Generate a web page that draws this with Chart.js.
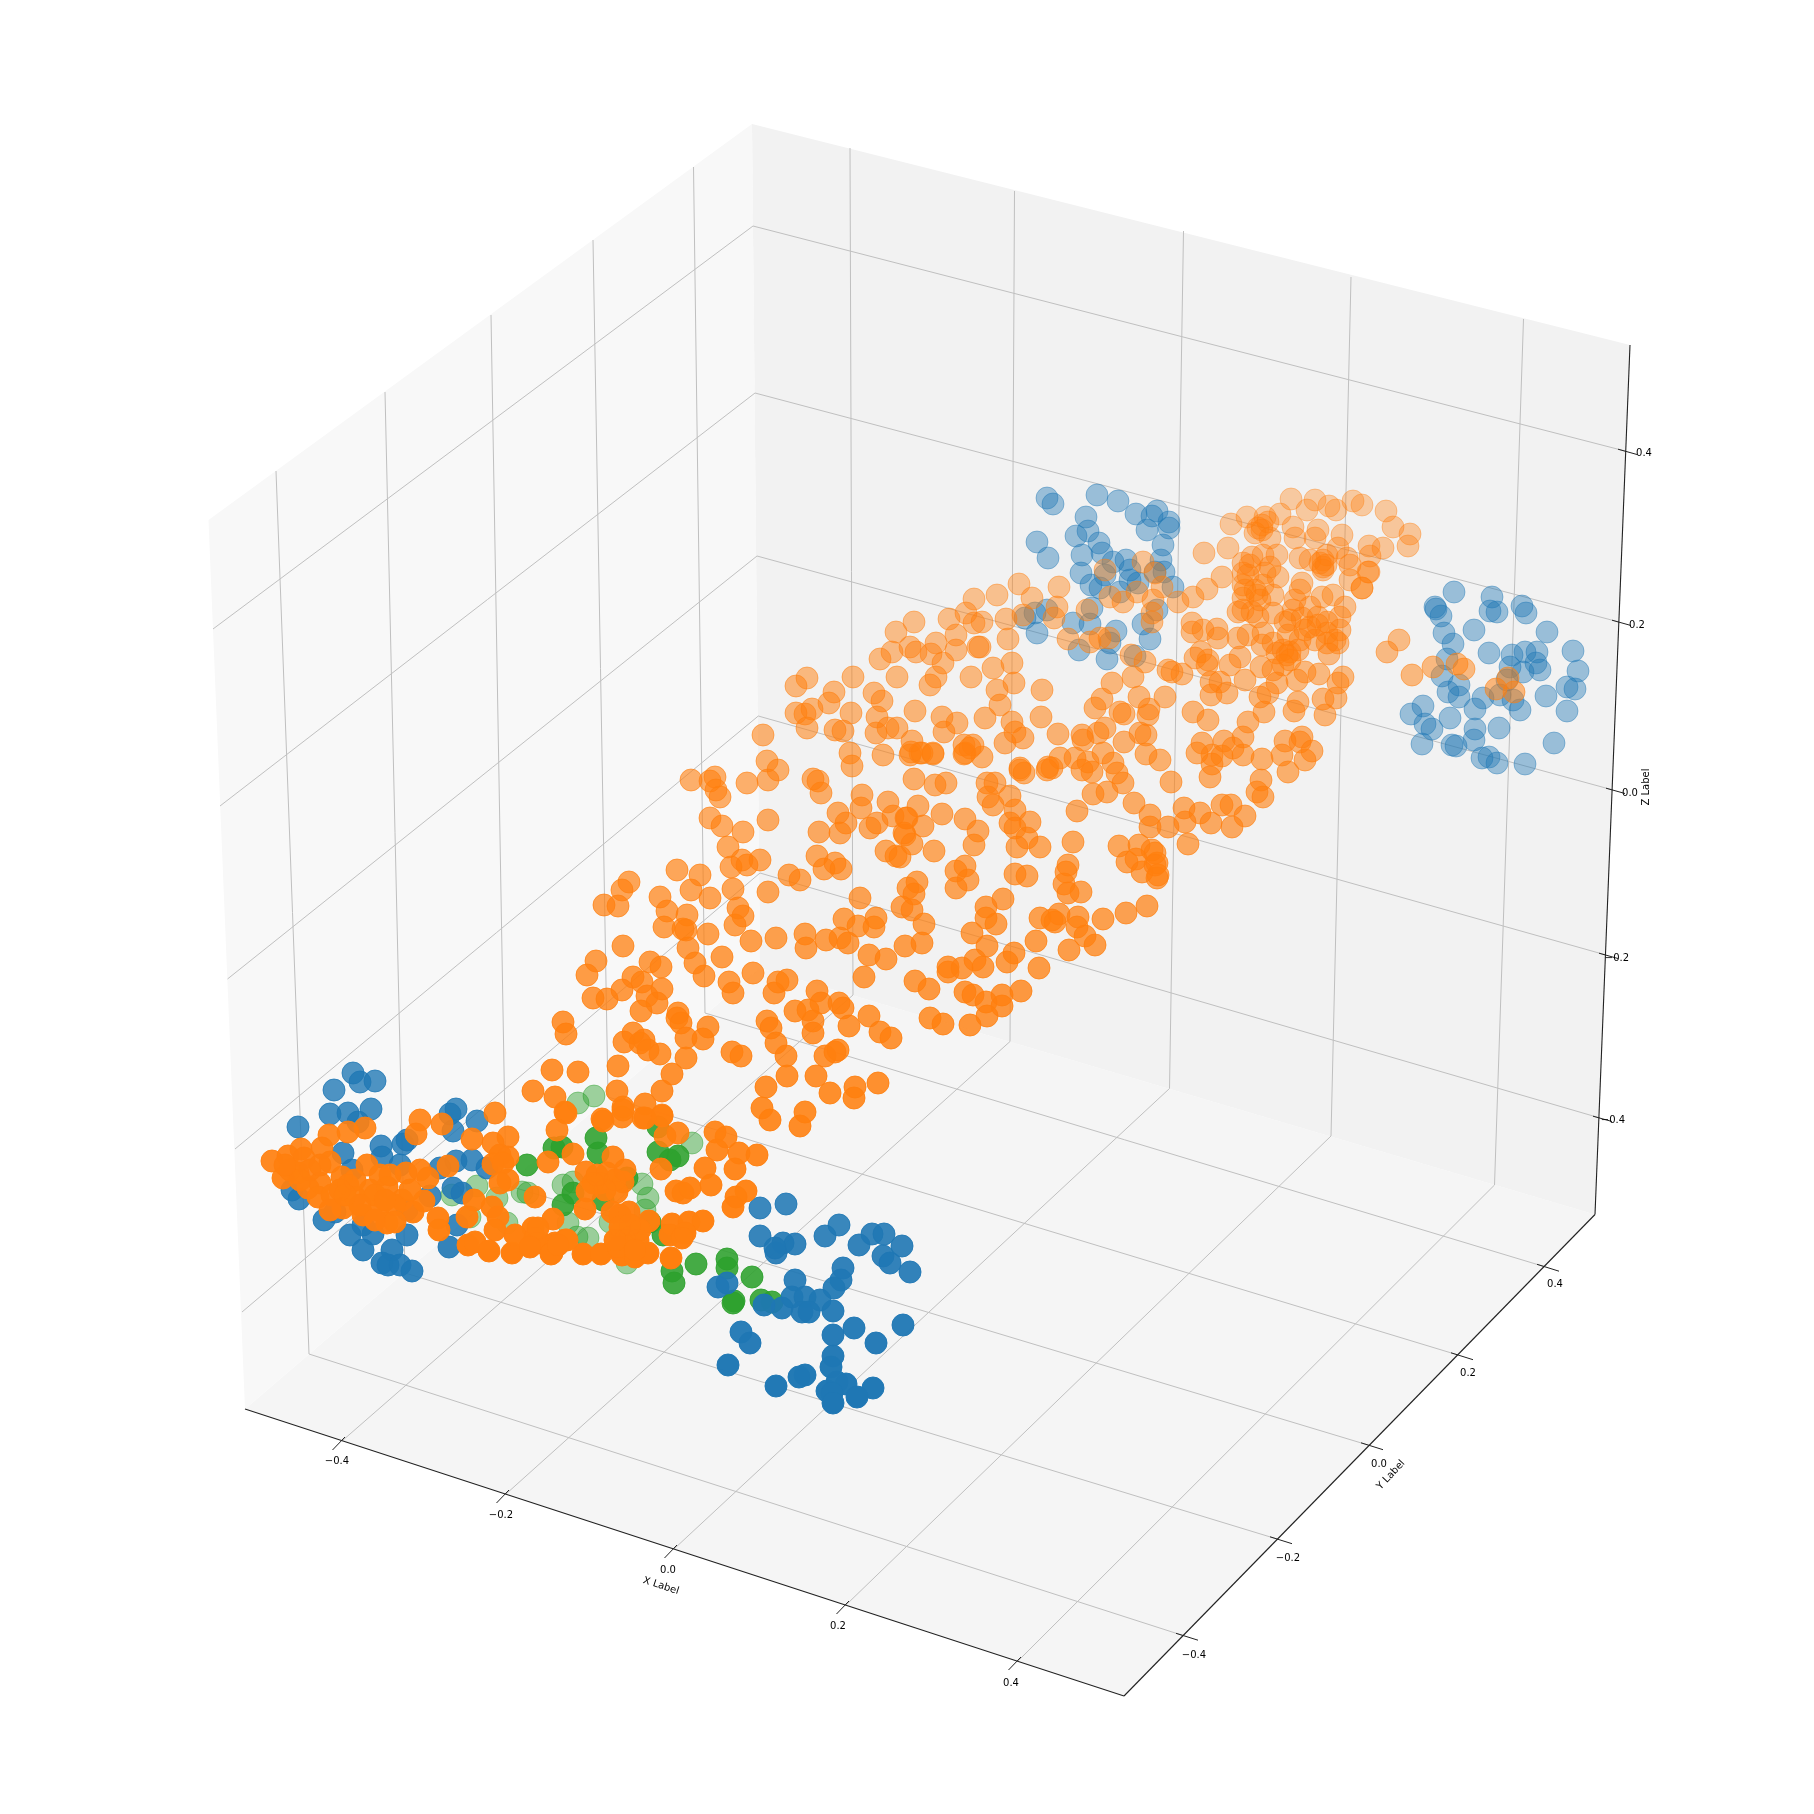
<!DOCTYPE html>
<html>
<head>
<meta charset="utf-8">
<title>3D scatter</title>
<script src="https://cdn.jsdelivr.net/npm/chart.js@4/dist/chart.umd.min.js"></script>
<style>
  html, body { margin: 0; padding: 0; background: #fff; }
  canvas { display: block; }
</style>
</head>
<body>
<canvas id="scatter3d" width="1814" height="1814"></canvas>
<script>
// Series values as [x, y]
const blueBack = [
  [1454,592],[1492,597],[1490,611],[1497,612],[1522,606],[1526,613],[1435,607],[1436,609],[1441,616],[1474,630],
  [1444,633],[1547,632],[1453,644],[1489,653],[1512,655],[1525,652],[1537,652],[1573,651],[1578,671],[1447,659],
  [1510,667],[1536,663],[1540,670],[1523,672],[1442,676],[1459,685],[1507,680],[1567,687],[1575,689],[1448,692],
  [1459,697],[1483,698],[1500,695],[1513,700],[1546,696],[1520,710],[1567,711],[1423,706],[1411,714],[1475,709],
  [1450,718],[1425,724],[1432,729],[1499,728],[1475,729],[1474,740],[1422,744],[1452,745],[1456,746],[1554,743],
  [1482,758],[1489,757],[1497,763],[1525,764],
  [1047,498],[1053,504],[1097,495],[1118,501],[1136,514],[1157,511],[1152,516],[1169,522],[1169,528],[1147,530],
  [1086,517],[1088,531],[1076,536],[1037,542],[1048,558],[1099,543],[1163,545],[1082,555],[1102,553],[1113,562],
  [1126,560],[1161,560],[1081,573],[1105,575],[1130,570],[1155,572],[1164,572],[1091,585],[1100,588],[1130,580],
  [1138,583],[1120,592],[1173,587],[1157,610],[1092,608],[1047,610],[1035,613],[1025,618],[1073,623],[1090,624],
  [1037,633],[1143,624],[1116,631],[1150,639],[1110,643],[1079,650],[1107,659],[1135,656]
];
const blueFront = [
  [353,1073],[360,1082],[375,1081],[334,1090],[330,1114],[348,1113],[371,1109],[358,1122],[298,1127],[343,1153],
  [381,1146],[403,1144],[407,1140],[450,1114],[456,1109],[477,1121],[453,1131],[382,1157],[400,1165],[456,1161],
  [472,1160],[440,1168],[487,1168],[352,1170],[453,1188],[462,1193],[430,1196],[292,1190],[299,1199],[324,1220],
  [335,1212],[363,1225],[350,1235],[373,1234],[407,1235],[392,1250],[363,1250],[382,1263],[388,1265],[400,1265],
  [412,1271],[457,1225],[449,1247],[407,1210],
  [760,1208],[786,1204],[760,1236],[839,1225],[825,1236],[783,1243],[795,1244],[776,1253],[775,1248],[859,1245],
  [872,1234],[884,1234],[902,1246],[883,1256],[890,1263],[910,1272],[843,1268],[841,1280],[834,1288],[795,1280],
  [792,1297],[805,1297],[820,1300],[833,1311],[782,1308],[764,1305],[718,1287],[727,1283],[802,1312],[809,1312],
  [741,1332],[750,1343],[728,1365],[833,1335],[854,1328],[876,1343],[903,1325],[833,1356],[831,1367],[805,1375],
  [799,1377],[776,1386],[846,1384],[837,1382],[873,1388],[857,1397],[827,1391],[832,1393],[833,1403]
];
const greenBack = [
  [578,1103],[594,1096],[477,1186],[452,1195],[497,1198],[522,1192],[528,1193],[470,1217],[507,1223],[563,1185],
  [573,1182],[648,1198],[642,1184],[588,1238],[627,1263],[568,1223],[577,1237],[610,1222],[645,1210],[692,1143]
];
const greenFront = [
  [562,1147],[554,1148],[527,1165],[596,1138],[598,1153],[573,1193],[563,1205],[603,1200],[627,1178],[658,1127],
  [658,1152],[670,1160],[678,1156],[650,1222],[663,1235],[672,1271],[674,1283],[696,1264],[727,1259],[727,1268],
  [752,1277],[734,1301],[761,1300],[772,1302],[733,1303]
];
const orangeUpper = [
  [1399,640],[1387,652],[1412,675],[1433,667],[1457,664],[1464,669],[1508,678],[1496,689],[1514,692],[1369,572],[1362,588],
  [1291,499],[1315,500],[1329,506],[1353,501],[1362,505],[1386,511],[1336,510],[1307,510],[1280,514],[1265,517],
  [1247,517],[1231,524],[1262,525],[1255,533],[1293,527],[1318,530],[1393,527],[1410,534],[1270,538],[1295,538],
  [1315,538],[1342,535],[1408,546],[1369,546],[1383,548],[1370,556],[1228,548],[1204,553],[1263,555],[1277,555],
  [1252,557],[1300,558],[1338,548],[1327,555],[1347,558],[1243,563],[1270,567],[1310,560],[1323,567],[1323,570],
  [1350,565],[1243,573],[1265,573],[1278,577],[1368,572],[1222,577],[1243,585],[1350,580],[1362,588],[1263,585],
  [1302,583],[1300,590],[1207,589],[1193,597],[1257,595],[1243,598],[1273,595],[1322,597],[1333,595],[1295,600],
  [1345,607],[1243,610],[1238,612],[1258,617],[1273,613],[1293,610],[1310,607],[1340,617],[1285,622],[1302,618],
  [1318,617],[1327,622],[1310,627],[1340,630],[1327,633],[1263,633],[1288,635],[1248,635],[1338,643],[1327,643],
  [1262,645],[1273,643],[1315,640],[1290,652],[1298,650],[1287,655],[1277,653],[1329,654],
  [1323,560],[1326,565],[1320,563],[1262,530],[1268,522],[1258,528],[1250,565],[1248,575],[1245,590],[1255,590],
  [1260,600],[1252,612],[1290,620],[1305,630],[1318,625],[1300,640],[1335,640],[1283,650],[1290,660]
];
const orangeMiddle = [
  [1192,623],[1192,632],[1203,630],[1217,629],[1218,638],[1238,638],[1201,652],[1195,658],[1208,660],[1207,665],
  [1230,665],[1240,657],[1261,667],[1273,670],[1283,665],[1305,672],[1319,674],[1343,677],[1297,680],[1245,680],
  [1220,682],[1211,682],[1277,683],[1338,683],[1227,693],[1211,695],[1268,693],[1260,697],[1323,699],[1336,698],
  [1298,702],[1264,712],[1294,711],[1325,715],[1193,712],[1208,720],[1248,722],[1243,737],[1302,737],[1285,741],
  [1300,742],[1312,751],[1202,743],[1224,741],[1197,753],[1233,748],[1212,755],[1222,756],[1243,755],[1262,759],
  [1282,755],[1305,760],
  [1019,584],[997,595],[1032,598],[1059,587],[1023,615],[1006,619],[1057,607],[1054,618],[1008,639],[982,622],[980,647],
  [1087,610],[1110,597],[1123,602],[1137,592],[1143,562],[1105,570],[1155,573],[1153,600],[1162,587],[1178,602],
  [1152,613],[1152,622],[1068,639],[1090,642],[1109,638],[1100,638],[1131,655],[1145,662],[1168,670],[1172,672],
  [1182,674],[1133,677],[1112,683],[1042,690],[1012,663],[993,668],[1014,683],[997,690],[1000,705],[1041,717],
  [1165,697],[1139,697],[1102,699],[1095,708],[1120,712],[1124,714],[1149,709],[1148,715],[985,718],[1012,722],
  [1015,732],[1023,738],[1005,743],[1058,734],[1082,735],[1083,740],[1105,728],[1098,733],[1124,742],[1140,733],
  [1146,735],[1146,754],[1160,760],[1103,753],[1113,763],[1060,758],[1075,758],[1088,762],[1048,767],[1020,768],[982,757],
  [1212,764],[1210,777],[1288,772],[1261,780],[1257,792],[1263,797],[1171,782],[1184,808],[1200,813],[1222,805],
  [1231,805],[1245,816],[1211,823],[1232,827],[1185,822],[1168,827],[1150,815],[1150,827],[1188,844],[1155,853],[1157,863],[1158,875],
  [974,623],[966,613],[974,599],[949,619],
  [807,678],[796,686],[796,713],[812,709],[805,714],[807,728],[834,692],[829,703],[853,677],[851,713],
  [835,730],[843,731],[763,735],[850,753],[852,766],[874,693],[882,701],[877,717],[876,733],[888,728],
  [897,728],[880,659],[892,652],[896,632],[897,677],[910,647],[916,652],[930,685],[936,677],[931,654],
  [936,643],[943,663],[956,635],[956,650],[914,622],[915,711],[912,741],[883,755],[910,755],[920,753],
  [933,753],[942,717],[957,723],[944,732],[964,745],[973,745],[964,754],[978,647],[971,677]
];
const orangeLower = [
  [911,752],[922,753],[933,754],[965,753],[970,748],[914,779],[935,785],[946,783],[987,783],[995,783],
  [988,797],[993,805],[1010,796],[1020,770],[1024,773],[1047,770],[1052,768],[1082,770],[1092,772],[1117,773],
  [1123,783],[1093,794],[1107,792],[1134,803],[1077,811],[1073,842],[1119,846],[1139,845],[1152,850],[1127,862],
  [1136,859],[1155,865],[1142,872],[1157,878],[1068,865],[1066,872],[1064,884],[1068,893],[1081,892],[1147,906],
  [1126,913],[1103,919],[1078,917],[1059,914],[1040,918],[1052,920],[1055,922],[1077,927],[1085,936],[1095,945],
  [1036,941],[1069,950],[1015,810],[1030,822],[1010,823],[1015,828],[1027,838],[1017,847],[1040,847],[1015,874],
  [1027,876],[1003,899],[986,907],[986,918],[996,924],[972,933],[987,946],[975,960],[983,967],[1014,953],
  [1007,962],[1039,968],[1021,991],[1002,995],[965,992],[973,995],[986,1002],[1002,1006],[987,1016],[970,1025],
  [943,1024],[930,1018],[929,989],[915,981],[948,967],[948,972],[962,968],[918,806],[942,814],[907,818],
  [923,826],[905,835],[912,844],[900,857],[965,819],[978,831],[974,845],[934,851],[965,866],[956,871],
  [968,880],[956,888],[917,882],[908,888],[914,894],[902,907],[912,910],[924,924],[922,943],[905,946],
  [715,777],[710,781],[716,790],[720,797],[747,783],[767,761],[778,770],[768,780],[710,818],[722,826],
  [743,832],[768,820],[728,847],[742,860],[731,867],[747,865],[760,860],[700,875],[733,889],[710,898],
  [768,892],[738,908],[743,916],[735,925],[708,934],[751,941],[776,938],[722,957],[789,875],[800,880],
  [817,856],[824,869],[835,863],[841,869],[813,779],[818,781],[821,793],[838,813],[819,832],[846,823],
  [840,833],[862,795],[861,808],[870,828],[877,823],[888,802],[893,816],[906,818],[904,833],[886,851],
  [896,856],[860,898],[844,919],[858,926],[876,918],[874,927],[840,938],[848,943],[826,940],[805,934],
  [806,948],[869,955],[886,959],
  [691,780],[677,870],[629,882],[622,890],[691,890],[660,897],[604,905],[618,906],[667,911],[687,915],
  [664,927],[683,929],[686,930],[688,948],[623,946],[695,963],[704,976],[596,961],[587,975],[650,962],
  [661,967],[633,977],[642,982],[662,989],[593,998],[607,999],[622,990],[647,996],[657,1003],[641,1011],
  [753,973],[729,982],[733,993],[774,993],[778,982],[787,980],[817,991],[821,1003],[795,1011],[808,1010],
  [813,1021],[813,1033],[839,1003],[843,1008],[849,1026],[869,1016],[880,1032],[891,1038],[767,1021],[771,1028],
  [776,1043],[786,1056],[732,1052],[741,1056],[825,1056],[835,1052],[838,1050],[816,1076],[787,1076],[766,1087],
  [830,1093],[855,1087],[878,1083],[854,1098],[762,1108],[805,1112],[770,1120],[864,977],[800,1126]
];
const orangeFront = [
  [624,1042],[633,1033],[644,1040],[640,1043],[648,1050],[660,1054],[678,1013],[677,1018],[681,1023],[686,1038],
  [708,1027],[703,1039],[686,1058],[672,1074],[662,1091],[618,1066],[578,1072],[552,1070],[563,1022],[566,1034],
  [617,1091],[645,1104],[623,1107],[555,1097],[662,1115],[622,1117],[643,1118],[602,1119],[565,1112],[533,1091],
  [566,1113],[603,1121],[623,1110],[645,1118],[662,1116],[557,1130],[665,1136],[678,1133],[715,1132],[726,1137],
  [717,1150],[739,1153],[757,1155],[573,1154],[548,1162],[661,1169],[705,1168],[735,1169],[613,1157],[586,1172],
  [676,1191],[683,1193],[690,1188],[711,1185],[746,1191],[736,1197],[733,1207],[607,1173],[600,1183],[593,1183],
  [623,1182],[587,1191],[617,1192],[535,1197],[585,1209],[612,1212],[620,1215],[629,1212],[649,1221],[672,1224],
  [689,1222],[703,1221],[553,1219],[533,1228],[670,1235],[685,1233],[682,1238],[620,1233],[630,1237],[638,1240],
  [565,1240],[555,1243],[547,1245],[537,1243],[552,1253],[583,1254],[601,1254],[622,1255],[635,1257],[648,1253],
  [671,1258],[618,1247],[620,1227],
  [495,1113],[508,1137],[420,1120],[416,1134],[442,1124],[472,1139],[493,1143],[500,1155],[508,1157],[493,1164],
  [503,1163],[508,1180],[500,1183],[448,1166],[365,1128],[348,1132],[329,1135],[272,1161],[288,1156],[301,1149],
  [322,1148],[283,1178],[304,1158],[330,1162],[298,1173],[308,1188],[320,1183],[318,1197],[332,1195],[342,1177],
  [367,1165],[380,1175],[348,1185],[370,1190],[387,1187],[343,1208],[355,1197],[363,1215],[378,1210],[387,1223],
  [402,1200],[406,1173],[420,1170],[428,1178],[413,1212],[424,1201],[438,1218],[439,1230],[474,1200],[467,1217],
  [492,1207],[498,1217],[495,1230],[468,1245],[475,1242],[489,1251],[512,1253],[515,1235],[535,1238],[538,1228],
  [530,1247],[551,1254],[567,1240],[558,1245],
  [290,1170],[310,1170],[320,1165],[340,1190],[355,1180],[375,1195],[395,1205],[360,1205],[330,1210],[385,1200],
  [345,1195],[300,1180],[410,1190],[390,1175],[375,1220],[395,1222],[285,1165],
  [625,1240],[640,1230],[630,1225],[615,1240],[635,1250],[615,1180],[605,1190],[625,1170],[597,1175]
];

// Tick labels
const xTickLabels = ['\u22120.4', '\u22120.2', '0.0', '0.2', '0.4'];
const yTickLabels = ['\u22120.4', '\u22120.2', '0.0', '0.2', '0.4'];
const zTickLabels = ['\u22120.4', '\u22120.2', '0.0', '0.2', '0.4'];

// Box geometry, in picture coordinates
const leftWall = [[752,124],[208.5,520],[245,1409],[760,968]];
const backWall = [[752,124],[1630,345],[1595,1214.5],[760,968]];
const floorPane = [[245,1409],[1124,1696],[1595,1214.5],[760,968]];

const wallTops = [[276,471],[385,392],[491,315],[593,240],[693.5,167]];
const wallBottoms = [[309,1354],[405,1273],[506,1185],[608,1097],[705,1013]];
const backTops = [[850,148],[1014.5,191],[1183.5,231],[1351,277],[1523.5,319]];
const backBottoms = [[853,995],[1010,1041.5],[1169.5,1088.5],[1331,1136],[1494.5,1185]];
const xFront = [[342,1441],[506,1494],[674,1549],[846,1605],[1018,1661]];
const yFront = [[1183,1635.5],[1277,1539],[1368,1445],[1458,1355],[1544,1266.5]];
const zBack = [[760,873],[758.3,716],[757,556],[755,393],[753,226]];
const zLeft = [[242,1312],[235,1149],[227.5,979],[220,806],[213,629]];
const zRight = [[1600,1118],[1606,955],[1613,790],[1619,622],[1625,451]];

const xLabelPos = [[337,1461],[501,1515],[668,1570],[838,1626],[1011,1683]];
const yLabelPos = [[1194,1655],[1288,1558],[1379,1464],[1468,1373],[1555,1284]];
const zLabelPos = [[1613,1120],[1617,958],[1630,793],[1637,625],[1644,453]];

function lineSet(points, color, width, order) {
  return {
    data: points, showLine: true, borderColor: color, borderWidth: width,
    pointRadius: 0, fill: false, order: order, clip: false
  };
}

function paneSet(points, color) {
  return {
    data: points, showLine: true, borderColor: color, borderWidth: 0,
    backgroundColor: color, pointRadius: 0, fill: 'shape', order: 30
  };
}

function dotSet(points, rgb, alphaOf, order) {
  const colors = points.map(p => `rgba(${rgb},${alphaOf(p)})`);
  return {
    data: points, showLine: false, pointRadius: 11, pointBorderWidth: 1,
    pointBackgroundColor: colors, pointBorderColor: colors, order: order
  };
}

// nearer points are lower in the picture and less see-through
const orangeAlpha = p => Math.min(1, Math.max(0.36, 0.36 + (p[1] - 500) * 0.64 / 750)).toFixed(2);
const blueAlpha = p => Math.min(1, 0.8 + (p[1] - 1100) * 0.2 / 300).toFixed(2);

const BLUE = '31,119,180', ORANGE = '255,127,14', GREEN = '44,160,44';
const GRID = '#c0c0c0', EDGE = '#222222';

const datasets = [
  dotSet(orangeFront, ORANGE, orangeAlpha, 1),
  dotSet(orangeLower, ORANGE, orangeAlpha, 1),
  dotSet(orangeMiddle, ORANGE, orangeAlpha, 1),
  dotSet(orangeUpper, ORANGE, orangeAlpha, 1),
  dotSet(blueFront, BLUE, blueAlpha, 2),
  dotSet(blueBack, BLUE, () => 0.42, 2),
  dotSet(greenFront, GREEN, () => 0.88, 3),
  dotSet(greenBack, GREEN, () => 0.45, 3),
  paneSet(leftWall, '#f8f8f8'),
  paneSet(backWall, '#f2f2f2'),
  paneSet(floorPane, '#f5f5f5')
];

// grid on the walls and floor
wallTops.forEach((p, i) => datasets.push(lineSet([p, wallBottoms[i]], GRID, 1, 20)));
backTops.forEach((p, i) => datasets.push(lineSet([p, backBottoms[i]], GRID, 1, 20)));
xFront.forEach((p, i) => datasets.push(lineSet([p, backBottoms[i]], GRID, 1, 20)));
yFront.forEach((p, i) => datasets.push(lineSet([p, wallBottoms[i]], GRID, 1, 20)));
zBack.forEach((p, i) => {
  datasets.push(lineSet([p, zLeft[i]], GRID, 1, 20));
  datasets.push(lineSet([p, zRight[i]], GRID, 1, 20));
});

// the three drawn axes and their tick marks
datasets.push(lineSet([floorPane[0], floorPane[1]], EDGE, 1.1, 10));
datasets.push(lineSet([floorPane[1], floorPane[2]], EDGE, 1.1, 10));
datasets.push(lineSet([backWall[1], backWall[2]], EDGE, 1.1, 10));
xFront.forEach(p => datasets.push(lineSet([[p[0] + 3, p[1] - 4], [p[0] - 9.5, p[1] + 9]], EDGE, 1, 10)));
yFront.forEach(p => datasets.push(lineSet([[p[0] - 7, p[1] - 2.2], [p[0] + 15, p[1] + 4.7]], EDGE, 1, 10)));
zRight.forEach(p => datasets.push(lineSet([[p[0] - 7, p[1] - 1.8], [p[0] + 12, p[1] + 3.5]], EDGE, 1, 10)));

const axisText = {
  id: 'axisText',
  afterDatasetsDraw(chart) {
    const { ctx, scales } = chart;
    const put = (text, pos, angle) => {
      ctx.save();
      ctx.translate(scales.x.getPixelForValue(pos[0]), scales.y.getPixelForValue(pos[1]));
      ctx.rotate((angle || 0) * Math.PI / 180);
      ctx.fillText(text, 0, 0);
      ctx.restore();
    };
    ctx.save();
    ctx.font = '10px "DejaVu Sans"';
    ctx.fillStyle = '#000';
    ctx.textAlign = 'center';
    ctx.textBaseline = 'middle';
    xTickLabels.forEach((t, i) => put(t, xLabelPos[i]));
    yTickLabels.forEach((t, i) => put(t, yLabelPos[i]));
    zTickLabels.forEach((t, i) => put(t, zLabelPos[i]));
    put('X Label', [661, 1586], 18);
    put('Y Label', [1391, 1475], -47);
    put('Z Label', [1646, 787], -90);
    ctx.restore();
  }
};

new Chart(document.getElementById('scatter3d').getContext('2d'), {
  type: 'scatter',
  data: { datasets },
  options: {
    responsive: false,
    animation: false,
    layout: { padding: 0, autoPadding: false },
    plugins: { legend: { display: false }, tooltip: { enabled: false } },
    scales: {
      x: { type: 'linear', display: false, min: 0, max: 1814 },
      y: { type: 'linear', display: false, min: 0, max: 1814, reverse: true }
    }
  },
  plugins: [axisText]
});
</script>
</body>
</html>
